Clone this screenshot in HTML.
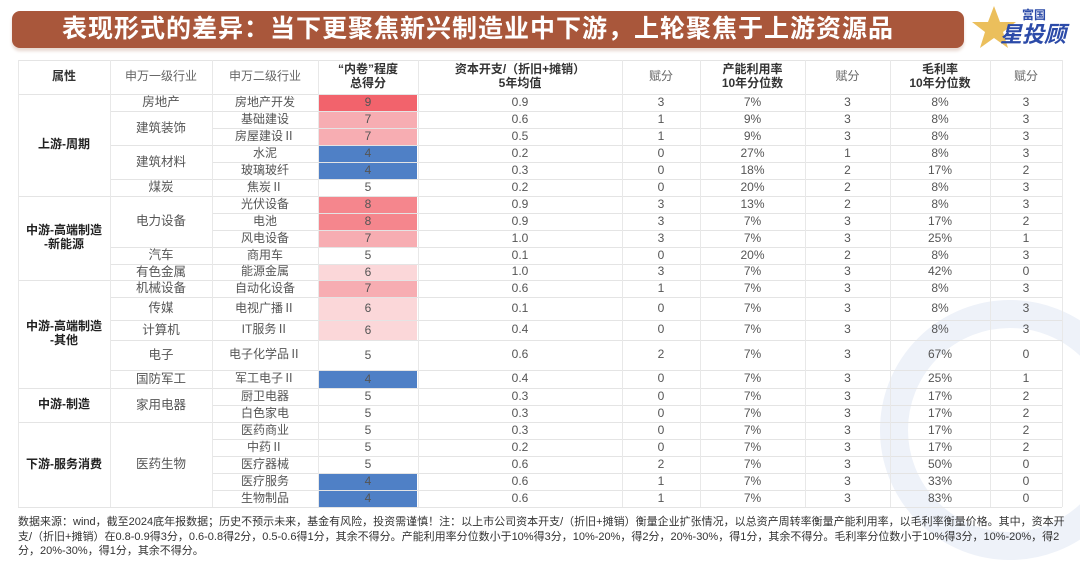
<!DOCTYPE html>
<html><head><meta charset="utf-8">
<style>
body{margin:0;width:1080px;height:561px;background:#fff;overflow:hidden;position:relative;font-family:"Liberation Sans","Noto Sans CJK SC",sans-serif;}
.c{position:absolute;display:flex;align-items:center;justify-content:center;text-align:center;box-sizing:border-box;font-size:12px;color:#555;line-height:1.15;}
.hl{position:absolute;background:#e4e4e4;height:1px;}
.vl{position:absolute;background:#e8e8e8;width:1px;}
</style></head><body>
<div style="position:absolute;left:860px;top:280px;width:220px;height:281px;overflow:hidden;">
<div style="position:absolute;left:20px;top:20px;width:260px;height:260px;border-radius:50%;border:28px solid #eef2f9;box-sizing:border-box;"></div></div>
<div style="position:absolute;left:12px;top:11px;width:952px;height:37px;background:#a9573b;border-radius:8px;box-shadow:0 3px 3px #e8d8d0;"></div>
<div style="position:absolute;left:62px;top:11px;height:37px;line-height:37px;color:#fff;font-weight:bold;font-size:25px;letter-spacing:1px;white-space:nowrap;">表现形式的差异：当下更聚焦新兴制造业中下游，上轮聚焦于上游资源品</div>
<div style="position:absolute;left:972px;top:2px;width:100px;height:48px;">
<svg width="100" height="48"><polygon points="22,4 28,20 44,20 31,30 36,46 22,36 8,46 13,30 0,20 16,20" fill="#e9b84a" opacity="0.9"/>
<text x="50" y="17" font-size="12" font-weight="bold" fill="#2b4aa8" font-family="Noto Sans CJK SC,sans-serif">富国</text>
<text x="28" y="40" font-size="22" font-weight="bold" font-style="italic" fill="#2b4aa8" font-family="Noto Sans CJK SC,sans-serif">星投顾</text></svg></div>
<div id="tbl"></div>
<div style="position:absolute;left:18px;top:515px;width:1052px;font-size:11px;line-height:14.5px;color:#333;">数据来源：wind，截至2024底年报数据；历史不预示未来，基金有风险，投资需谨慎！注：以上市公司资本开支/（折旧+摊销）衡量企业扩张情况，以总资产周转率衡量产能利用率，以毛利率衡量价格。其中，资本开支/（折旧+摊销）在0.8-0.9得3分，0.6-0.8得2分，0.5-0.6得1分，其余不得分。产能利用率分位数小于10%得3分，10%-20%，得2分，20%-30%，得1分，其余不得分。毛利率分位数小于10%得3分，10%-20%，得2分，20%-30%，得1分，其余不得分。</div>
<script>
const l2=["房地产开发","基础建设","房屋建设Ⅱ","水泥","玻璃玻纤","焦炭Ⅱ","光伏设备","电池","风电设备","商用车","能源金属","自动化设备","电视广播Ⅱ","IT服务Ⅱ","电子化学品Ⅱ","军工电子Ⅱ","厨卫电器","白色家电","医药商业","中药Ⅱ","医疗器械","医疗服务","生物制品"];
const score=[9,7,7,4,4,5,8,8,7,5,6,7,6,6,5,4,5,5,5,5,5,4,4];
const capex=["0.9","0.6","0.5","0.2","0.3","0.2","0.9","0.9","1.0","0.1","1.0","0.6","0.1","0.4","0.6","0.4","0.3","0.3","0.3","0.2","0.6","0.6","0.6"];
const s1=[3,1,1,0,0,0,3,3,3,0,3,1,0,0,2,0,0,0,0,0,2,1,1];
const util=["7%","9%","9%","27%","18%","20%","13%","7%","7%","20%","7%","7%","7%","7%","7%","7%","7%","7%","7%","7%","7%","7%","7%"];
const s2=[3,3,3,1,2,2,2,3,3,2,3,3,3,3,3,3,3,3,3,3,3,3,3];
const gm=["8%","8%","8%","8%","17%","8%","8%","17%","25%","8%","42%","8%","8%","8%","67%","25%","17%","17%","17%","17%","50%","33%","83%"];
const s3=[3,3,3,3,2,3,3,2,1,3,0,3,3,3,0,1,2,2,2,2,0,0,0];
const l1=[["房地产",1],["建筑装饰",2],["建筑材料",2],["煤炭",1],["电力设备",3],["汽车",1],["有色金属",1],["机械设备",1],["传媒",1],["计算机",1],["电子",1],["国防军工",1],["家用电器",2],["医药生物",5]];
const attr=[["上游-周期",6],["中游-高端制造<br>-新能源",5],["中游-高端制造<br>-其他",5],["中游-制造",2],["下游-服务消费",5]];
const rowY=[94,111,128,145,162,179,196,213,230,247,264,280,297,320,340,370,388,405,422,439,456,473,490,507];
const colX=[18,110,212,318,418,622,700,805,890,990,1062];
const colors={9:"#f2636c",8:"#f5868d",7:"#f7adb2",6:"#fbd7d9",5:"#ffffff",4:"#4f80c6"};
const T=document.body;
function cell(x,y,w,h,html,name,css){const d=document.createElement('div');d.className='c';d.style.cssText=`left:${x}px;top:${y}px;width:${w}px;height:${h}px;`+(css||'');d.innerHTML=html;


T.appendChild(d);return d;}
const heads=["属性","申万一级行业","申万二级行业","“内卷”程度<br>总得分","资本开支/（折旧+摊销）<br>5年均值","赋分","产能利用率<br>10年分位数","赋分","毛利率<br>10年分位数","赋分"];
const bold=[1,0,0,1,1,0,1,0,1,0];
heads.forEach((h,i)=>cell(colX[i],60,colX[i+1]-colX[i],34,h,'header-cell',bold[i]?'font-weight:bold;color:#333;':'color:#666;'));
function hl(x,y,w){const d=document.createElement('div');d.className='hl';d.style.cssText=`left:${x}px;top:${y}px;width:${w}px`;


T.appendChild(d);}
hl(18,60,1044);hl(18,94,1044);
for(let r=0;r<23;r++){
 const y=rowY[r],h=rowY[r+1]-y;
 hl(212,rowY[r+1],850);
 cell(colX[2],y,106,h,l2[r],'l2-industry');
 cell(colX[3]+1,y+1,98,h-1,score[r],'score-cell','background:'+colors[score[r]]+';');
 cell(colX[4],y,204,h,capex[r],'capex-value');
 cell(colX[5],y,78,h,s1[r],'capex-score');
 cell(colX[6],y,105,h,util[r],'utilization-value');
 cell(colX[7],y,85,h,s2[r],'utilization-score');
 cell(colX[8],y,100,h,gm[r],'gross-margin-value');
 cell(colX[9],y,72,h,s3[r],'gross-margin-score');
}
let k=0;l1.forEach(([n,c])=>{const y=rowY[k],y2=rowY[k+c];cell(colX[1],y,102,y2-y,n,'l1-industry','font-size:12.5px;');hl(110,y2,102);k+=c;});
k=0;attr.forEach(([n,c])=>{const y=rowY[k],y2=rowY[k+c];cell(colX[0],y,92,y2-y,n,'attribute-group','font-weight:bold;color:#222;');hl(18,y2,92);k+=c;});
colX.forEach(x=>{const d=document.createElement('div');d.className='vl';d.style.cssText=`left:${x}px;top:60px;height:447px`;


T.appendChild(d);});
</script>
</body></html>
